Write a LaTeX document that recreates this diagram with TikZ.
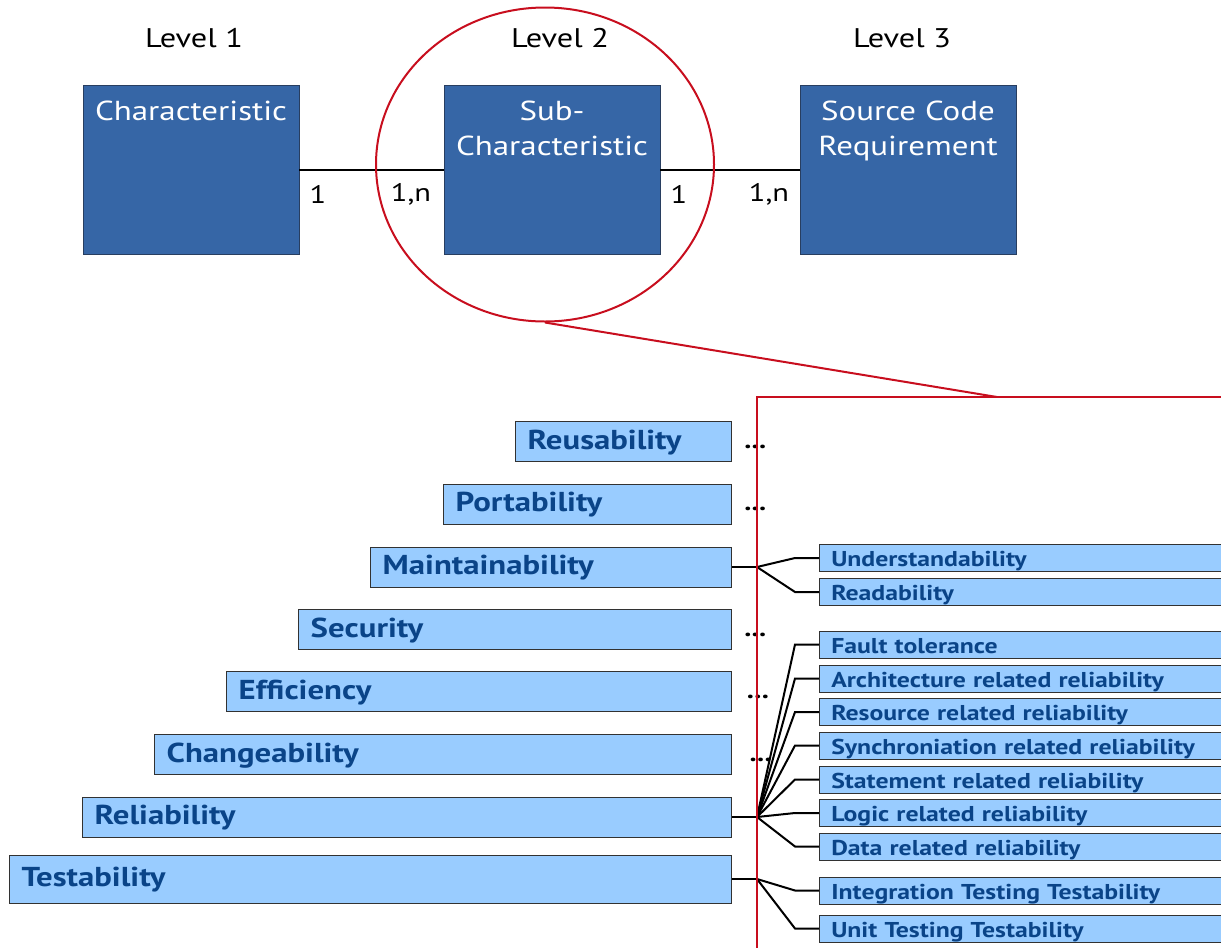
\documentclass[tikz,border=0pt]{standalone}
\usepackage{fontspec}
\setmainfont{PT Sans}[FakeStretch=1.2]
\usepackage{xcolor}
\definecolor{colorTopBox}{RGB}{54,102,166}
\definecolor{colorTopBorder}{RGB}{40,62,96}
\definecolor{colorSubBox}{RGB}{153,204,255}
\definecolor{colorSubBorder}{RGB}{50,50,50}
\definecolor{colorSubText}{RGB}{10,68,136}
\definecolor{colorZoom}{RGB}{200,14,30}
\usepackage{tikz}
\usetikzlibrary{positioning, shapes.geometric}
\tikzset{
  topbox/.style={draw=colorTopBorder, fill=colorTopBox, minimum width=162pt, minimum height=126.75pt, inner sep=0pt},
  toplabel/.style={anchor=north, text=white, align=center, font=\fontsize{20.6}{26.3}\selectfont, inner sep=12pt},
  leveltext/.style={font=\fontsize{20.2}{24}\selectfont},
  count/.style={font=\fontsize{19}{22}\selectfont},
  charbox/.style={draw=colorSubBorder, fill=colorSubBox, anchor=east, text width=#1, align=left, minimum height=30pt, inner xsep=9pt, inner ysep=0pt, text height=16.4pt, text depth=5pt, text=colorSubText, font=\fontsize{20.5}{24}\selectfont\bfseries},
  subbox/.style={draw=colorSubBorder, fill=colorSubBox, anchor=west, text width=297pt, align=left, minimum height=20.25pt, inner xsep=9pt, inner ysep=0pt, text height=16.3pt, text depth=3.5pt, text=colorSubText, font=\fontsize{16.1}{18}\selectfont\bfseries},
  dots/.style={font=\fontsize{18}{20}\selectfont\bfseries, inner sep=0pt, yshift=-4pt},
  branch/.style={draw=black, line width=1.5pt},
  zoomline/.style={draw=colorZoom, line width=1.5pt}
}

\begin{document}
\begin{tikzpicture}[x=0.75pt, y=-0.75pt]
\path[use as bounding box, clip] (0,0) rectangle (1221,947);
% model levels
\node[topbox, label={[toplabel]north:Characteristic}] (char) at (191,169.5) {};
\node[topbox, label={[toplabel]north:{Sub-\\Characteristic}}] (sub) at (552,169.5) {};
\node[topbox, label={[toplabel]north:{Source Code\\Requirement}}] (req) at (908,169.5) {};
\node[leveltext] (lvl1) at (194,38) {Level 1};
\node[leveltext] (lvl2) at (560,38) {Level 2};
\node[leveltext] (lvl3) at (902,38) {Level 3};
\draw[line width=1.5pt] (char.east) -- (sub.west);
\draw[line width=1.5pt] (sub.east) -- (req.west);
\node[count] (c1) at (318,194) {1};
\node[count] (c2) at (411,194) {1,n};
\node[count] (c3) at (679,194) {1};
\node[count] (c4) at (769,194) {1,n};
\node[draw=colorZoom, line width=1.5pt, ellipse, minimum width=253.5pt, minimum height=235.5pt] (zoom) at (545,164.5) {};

% characteristics
\node[charbox=144pt] (reuse) at (732,441.5) {Reusability};
\node[charbox=198pt] (port) at (732,504) {Portability};
\node[charbox=252.75pt] (maint) at (732,567) {Maintainability};
\node[charbox=306.75pt] (secur) at (732,629.5) {Security};
\node[charbox=360.75pt] (effic) at (732,691.5) {Efficiency};
\node[charbox=414.75pt] (change) at (732,754.5) {Changeability};
\node[charbox=468.75pt] (relia) at (732,817) {Reliability};
\node[charbox=523.5pt, minimum height=36pt] (testa) at (732,879) {Testability};

\node[dots, right=9pt of reuse.east] {...};
\node[dots, right=9pt of port.east] {...};
\node[dots, right=9pt of secur.east] {...};
\node[dots, right=11pt of effic.east] {...};
\node[dots, right=13pt of change.east] {...};

% sub-characteristics
\node[subbox] (under) at (819,558) {Understandability};
\node[subbox] (read) at (819,592) {Readability};
\node[subbox] (fault) at (819,644.5) {Fault tolerance};
\node[subbox] (arch) at (819,678.5) {Architecture related reliability};
\node[subbox] (resrc) at (819,712) {Resource related reliability};
\node[subbox] (sync) at (819,745.5) {Synchroniation related reliability};
\node[subbox] (stmt) at (819,779.5) {Statement related reliability};
\node[subbox] (logic) at (819,813) {Logic related reliability};
\node[subbox] (data) at (819,846.5) {Data related reliability};
\node[subbox] (integ) at (819,890.5) {Integration Testing Testability};
\node[subbox] (unit) at (819,928.5) {Unit Testing Testability};

\coordinate (maintfork) at (757,567);
\coordinate (reliafork) at (757,817);
\coordinate (testfork) at (757,879);
\draw[branch] (maint.east) -- (maintfork);
\draw[branch] (relia.east) -- (reliafork);
\draw[branch] (testa.east) -- (testfork);
\draw[branch] (maintfork) -- ([xshift=-18pt]under.west) -- (under.west);
\draw[branch] (maintfork) -- ([xshift=-18pt]read.west) -- (read.west);
\draw[branch] (reliafork) -- ([xshift=-18pt]fault.west) -- (fault.west);
\draw[branch] (reliafork) -- ([xshift=-18pt]arch.west) -- (arch.west);
\draw[branch] (reliafork) -- ([xshift=-18pt]resrc.west) -- (resrc.west);
\draw[branch] (reliafork) -- ([xshift=-18pt]sync.west) -- (sync.west);
\draw[branch] (reliafork) -- ([xshift=-18pt]stmt.west) -- (stmt.west);
\draw[branch] (reliafork) -- ([xshift=-18pt]logic.west) -- (logic.west);
\draw[branch] (reliafork) -- ([xshift=-18pt]data.west) -- (data.west);
\draw[branch] (testfork) -- ([xshift=-18pt]integ.west) -- (integ.west);
\draw[branch] (testfork) -- ([xshift=-18pt]unit.west) -- (unit.west);

% zoomed frame
\coordinate (frametop) at (997,397);
\draw[zoomline] (757,960) -- (757,397) -- (1235,397);
\draw[zoomline] (zoom.south) -- (frametop);
\end{tikzpicture}
\end{document}
